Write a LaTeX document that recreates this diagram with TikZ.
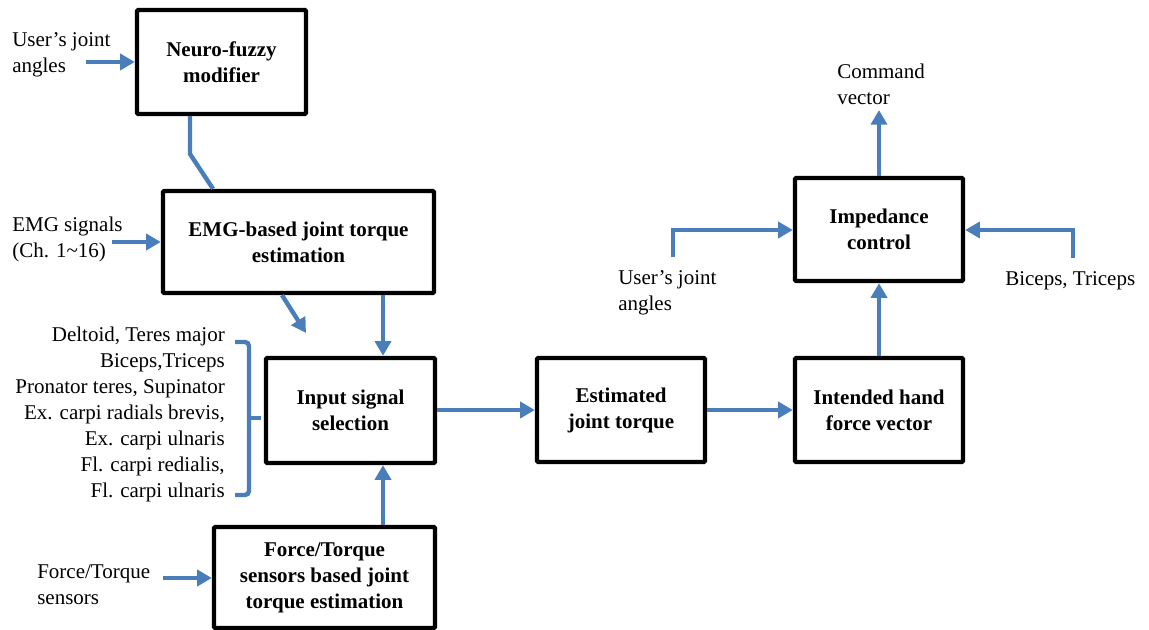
\documentclass[tikz,border=0pt]{standalone}
\usepackage{fontspec}
\setmainfont{Liberation Serif}
\usetikzlibrary{arrows.meta}
\definecolor{flowblue}{RGB}{74,126,187}
\begin{document}
\begin{tikzpicture}[x=0.75pt,y=-0.75pt,
  txt/.style={font=\fontsize{15.75}{19.5}\selectfont, inner sep=0pt},
  blk/.style={draw=black, line width=3.3pt, rounded corners=1pt,
    font=\fontsize{15.75}{19.5}\selectfont\bfseries, align=center, inner sep=0pt},
  flow/.style={draw=flowblue, line width=3.3pt},
  arr/.style={flow, -{Triangle[length=11pt,width=12pt]}},
]
\useasboundingbox (0,0) rectangle (1149,630);

% processing blocks
\node[blk, minimum width=126.75pt, minimum height=78pt]    (neuro)    at (221.5,62)    {Neuro-fuzzy\\modifier};
\node[blk, minimum width=203.25pt, minimum height=76.5pt]  (emg)      at (298.5,242)   {EMG-based joint torque\\estimation};
\node[blk, minimum width=126.75pt, minimum height=78.75pt] (input)    at (350.5,410.5) {Input signal\\selection};
\node[blk, minimum width=165.75pt, minimum height=75.75pt] (force)    at (324.5,577.5) {Force/Torque\\sensors based joint\\torque estimation};
\node[blk, minimum width=126pt,    minimum height=78pt]    (est)      at (621,410)     {Estimated\\joint torque};
\node[blk, minimum width=126pt,    minimum height=78pt]    (intended) at (879,410)     {Intended hand\\force vector};
\node[blk, minimum width=126pt,    minimum height=77.25pt] (imp)      at (879,229.5)   {Impedance\\control};

% signal labels
\node[txt, anchor=west, align=left]  (ujaL) at (12,55)    {User’s joint\\angles};
\node[txt, anchor=west, align=left]  (emgL) at (12,239.5) {EMG signals\\(Ch. 1\textasciitilde16)};
\node[txt, anchor=east, align=right] (musL) at (225,414.5)
  {Deltoid, Teres major\\Biceps,Triceps\\Pronator teres, Supinator\\Ex. carpi radials brevis,\\Ex. carpi ulnaris\\Fl. carpi redialis,\\Fl. carpi ulnaris};
\node[txt, anchor=west, align=left]  (ftL)  at (37,584.5) {Force/Torque\\sensors};
\node[txt, anchor=west, align=left]  (cmdL) at (837,84)   {Command\\vector};
\node[txt, anchor=west, align=left]  (ujaR) at (618,292.5) {User’s joint\\angles};
\node[txt, anchor=west]              (btL)  at (1005,281) {Biceps, Triceps};

% connector end points
\coordinate (ujaS)  at (86,62);
\coordinate (emgS)  at (112,242);
\coordinate (ftS)   at (163,578);
\coordinate (nfK)   at (190,154);
\coordinate (nfE)   at (213,191);
\coordinate (diagS) at (282,293);
\coordinate (diagE) at (306,333);
\coordinate (col)   at (383,0);
\coordinate (cmdE)  at (879,110);
\coordinate (ujaRS) at (673,257);
\coordinate (ujaRK) at (673,230);
\coordinate (btS)   at (1073,258);
\coordinate (btK)   at (1073,230);

% connectors
\draw[arr] (ujaS) -- (ujaS -| neuro.west);
\draw[flow] (neuro.south -| nfK) -- (nfK) -- (emg.north -| nfE);
\draw[arr] (emgS) -- (emgS -| emg.west);
\draw[arr] (emg.south -| diagS) -- (diagE);
\draw[arr] (emg.south -| col) -- (input.north -| col);
\draw[arr] (ftS) -- (ftS -| force.west);
\draw[arr] (force.north -| col) -- (input.south -| col);
\draw[arr] (input.east |- est.west) -- (est.west);
\draw[arr] (est.east) -- (intended.west);
\draw[arr] (intended.north) -- (imp.south);
\draw[arr] (imp.north) -- (cmdE);
\draw[arr] (ujaRS) -- (ujaRK) -- (ujaRK -| imp.west);
\draw[arr] (btS) -- (btK) -- (btK -| imp.east);

% brace grouping the muscle channels
\draw[flow, rounded corners=3pt] (235,342) -- (249,342) -- (249,495) -- (235,495);
\draw[flow] (249,418) -- (261,418);
\end{tikzpicture}
\end{document}
